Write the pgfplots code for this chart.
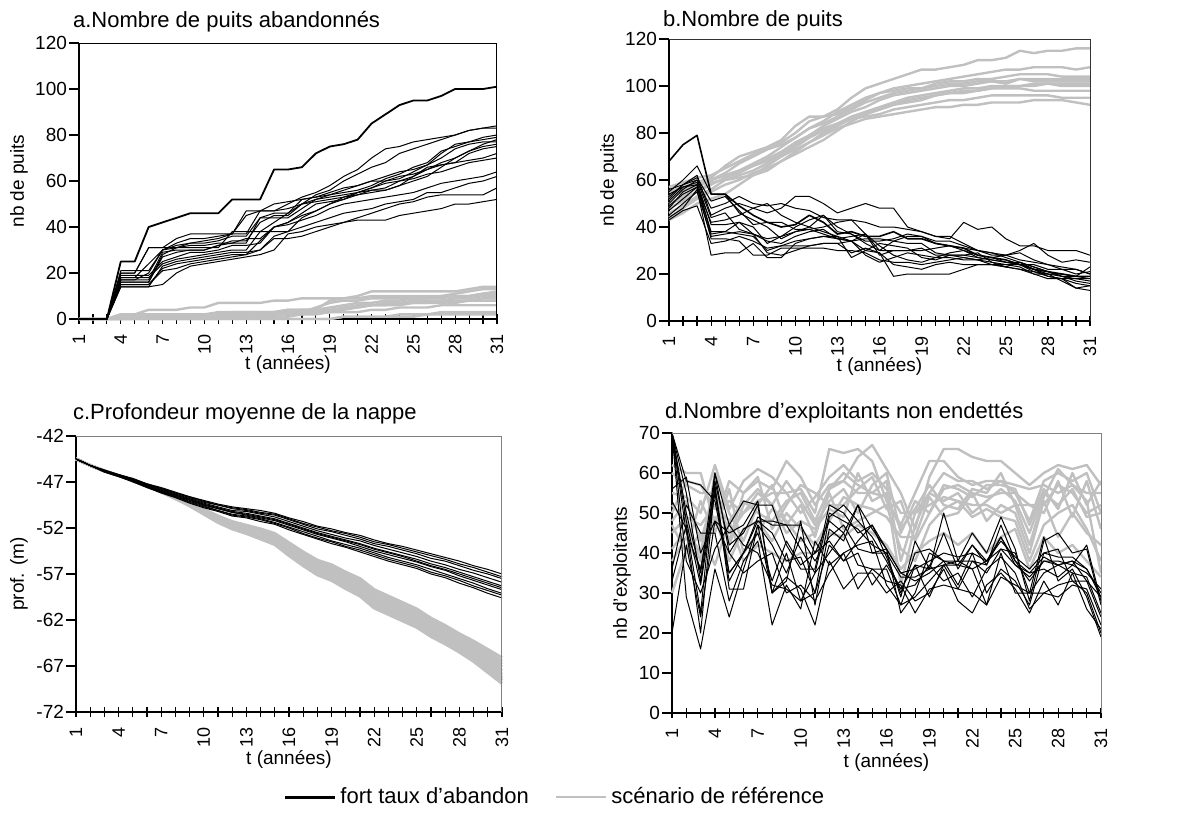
\documentclass[border=0pt]{standalone}
\usepackage{pgfplots}
\pgfplotsset{compat=1.18}
\usepackage{fontspec}
\setmainfont{Liberation Sans}
\definecolor{lgray}{HTML}{C0C0C0}

\pgfplotsset{
  panel/.style={
    scale only axis, anchor=north west, clip=false,
    axis x line*=bottom, axis y line*=left,
    axis line style={-, black, line width=0.8pt},
    xmin=1, xmax=31,
    xtick={1,4,...,31}, minor x tick num=2,
    tick align=center,
    major tick length=5pt, minor tick length=5pt,
    tick style={black, line width=0.6pt},
    every major y tick/.append style={xshift=-2.5pt},
    tick label style={font=\fontsize{9.5}{10}\selectfont},
    xticklabel style={rotate=90, anchor=east, font=\fontsize{9}{10}\selectfont},
    xticklabel shift=1.5pt,
    /pgf/number format/assume math mode=true,
    label style={font=\fontsize{9.5}{11}\selectfont},
    title style={font=\fontsize{11}{12}\selectfont, at={(0,1)}, anchor=base west},
  },
  bl/.style={black, line width=0.5pt, line join=round, forget plot},
  gr/.style={lgray, line width=1.2pt, line join=round, forget plot},
}
\newcommand\bk[2][]{\addplot[bl,#1] table[row sep=\\, header=false, x expr=\coordindex+1, y index=0]{#2\\};}
\newcommand\gy[2][]{\addplot[gr,#1] table[row sep=\\, header=false, x expr=\coordindex+1, y index=0]{#2\\};}
\newcommand\frameTR[1]{\draw[#1, line width=0.5pt] (rel axis cs:0,1) -- (rel axis cs:1,1) -- (rel axis cs:1,0);}

\begin{document}
\begin{tikzpicture}
\useasboundingbox (0,0) rectangle (594.5pt,-409.5pt);

% a. abandoned wells
\begin{axis}[panel, at={(39.5pt,-21.5pt)}, width=209pt, height=138pt,
  ymin=0, ymax=120, ytick={0,20,...,120},
  title={a.Nombre de puits abandonnés}, title style={xshift=-6.5pt, yshift=2pt},
  ylabel={nb de puits}, ylabel style={at={(axis description cs:-0.1435,0.5)}, anchor=center},
  xlabel={t (années)}, xlabel style={at={(axis description cs:0.5,-0.166)}, anchor=center}]
\gy{0\\0\\0\\2\\2\\4\\4\\4\\5\\5\\7\\7\\7\\7\\8\\8\\9\\9\\9\\9\\10\\12\\12\\12\\12\\12\\12\\12\\13\\14\\14}
\gy{0\\0\\0\\1\\2\\2\\2\\2\\2\\2\\3\\3\\3\\3\\3\\4\\4\\4\\8\\9\\9\\10\\10\\10\\10\\10\\10\\11\\12\\13\\13}
\gy{0\\0\\0\\0\\1\\1\\1\\1\\1\\2\\2\\2\\2\\2\\2\\2\\3\\5\\7\\8\\8\\9\\9\\9\\9\\9\\10\\10\\10\\11\\11}
\gy{0\\0\\0\\0\\0\\1\\1\\1\\1\\1\\1\\1\\1\\1\\2\\3\\3\\3\\3\\4\\5\\6\\7\\7\\8\\8\\8\\9\\9\\10\\10}
\gy{0\\0\\0\\0\\0\\0\\0\\0\\0\\0\\0\\1\\1\\1\\1\\1\\2\\2\\3\\5\\6\\6\\6\\6\\7\\7\\7\\7\\8\\8\\8}
\gy{0\\0\\0\\1\\1\\1\\1\\1\\1\\1\\1\\1\\2\\2\\2\\2\\2\\3\\3\\3\\3\\4\\4\\5\\5\\5\\6\\6\\6\\6\\6}
\gy{0\\0\\0\\0\\0\\0\\0\\0\\0\\0\\0\\0\\0\\0\\0\\0\\0\\0\\0\\1\\1\\1\\1\\2\\2\\2\\3\\3\\3\\3\\3}
\gy{0\\0\\0\\0\\0\\0\\0\\0\\0\\0\\0\\0\\0\\0\\0\\0\\0\\0\\0\\1\\1\\1\\1\\1\\1\\2\\2\\2\\2\\2\\2}
\gy{0\\0\\0\\2\\2\\2\\2\\2\\2\\2\\2\\3\\3\\3\\3\\3\\4\\4\\5\\6\\7\\7\\8\\8\\9\\9\\9\\10\\10\\11\\12}
\gy{0\\0\\0\\0\\1\\1\\1\\1\\1\\1\\1\\2\\2\\2\\3\\4\\4\\4\\4\\5\\5\\6\\6\\7\\7\\7\\8\\8\\8\\9\\9}
\bk[line width=0.9pt]{0\\0\\0\\25\\25\\40\\42\\44\\46\\46\\46\\52\\52\\52\\65\\65\\66\\72\\75\\76\\78\\85\\89\\93\\95\\95\\97\\100\\100\\100\\101}
\bk{0\\0\\0\\18\\18\\24\\30\\33\\35\\35\\36\\37\\45\\47\\47\\50\\53\\55\\58\\62\\65\\70\\74\\75\\77\\78\\79\\80\\82\\83\\84}
\bk{0\\0\\0\\16\\16\\16\\28\\31\\33\\33\\34\\36\\36\\44\\46\\46\\50\\54\\56\\60\\63\\66\\68\\72\\74\\76\\78\\80\\82\\83\\83}
\bk{0\\0\\0\\20\\20\\31\\31\\31\\31\\31\\31\\38\\38\\38\\42\\46\\52\\53\\54\\55\\56\\58\\61\\63\\66\\68\\73\\75\\77\\79\\80}
\bk{0\\0\\0\\15\\15\\15\\22\\24\\25\\26\\27\\28\\28\\34\\40\\42\\45\\47\\50\\53\\55\\57\\59\\60\\62\\65\\68\\70\\73\\76\\78}
\bk{0\\0\\0\\17\\17\\17\\29\\30\\30\\30\\32\\34\\34\\42\\45\\45\\50\\51\\52\\53\\54\\56\\56\\58\\60\\62\\66\\70\\73\\75\\76}
\bk{0\\0\\0\\19\\19\\19\\25\\27\\29\\29\\30\\32\\32\\33\\40\\42\\46\\50\\51\\52\\55\\57\\60\\62\\63\\65\\67\\68\\72\\74\\75}
\bk{0\\0\\0\\14\\14\\14\\23\\25\\26\\27\\28\\29\\29\\30\\36\\38\\44\\47\\50\\52\\54\\55\\56\\58\\62\\66\\67\\68\\69\\70\\72}
\bk{0\\0\\0\\21\\21\\21\\30\\32\\33\\34\\35\\37\\47\\47\\47\\48\\50\\52\\53\\54\\55\\56\\57\\60\\61\\63\\64\\66\\68\\69\\70}
\bk{0\\0\\0\\16\\16\\16\\27\\29\\30\\30\\32\\33\\35\\35\\40\\41\\43\\45\\48\\50\\51\\52\\53\\54\\55\\57\\59\\60\\61\\62\\64}
\bk{0\\0\\0\\18\\18\\18\\24\\26\\27\\28\\29\\30\\30\\38\\38\\38\\40\\42\\44\\46\\47\\48\\50\\51\\52\\55\\55\\57\\59\\60\\62}
\bk{0\\0\\0\\15\\15\\15\\21\\22\\24\\25\\26\\27\\28\\30\\35\\35\\36\\38\\40\\42\\44\\46\\48\\50\\51\\53\\54\\54\\54\\54\\57}
\bk{0\\0\\0\\14\\14\\14\\15\\20\\23\\24\\25\\26\\27\\28\\30\\37\\38\\40\\41\\42\\43\\43\\43\\45\\46\\47\\48\\50\\50\\51\\52}
\bk{0\\0\\0\\20\\20\\31\\31\\35\\37\\37\\37\\37\\37\\47\\50\\51\\52\\53\\55\\57\\58\\60\\62\\64\\65\\67\\70\\74\\76\\77\\77}
\bk{0\\0\\0\\17\\17\\20\\30\\31\\32\\32\\33\\33\\33\\44\\44\\44\\48\\52\\54\\56\\58\\60\\60\\61\\64\\67\\72\\76\\77\\78\\79}
\frameTR{black}
\end{axis}

% b. number of wells
\begin{axis}[panel, at={(334.5pt,-19.5pt)}, width=210.5pt, height=141pt,
  ymin=0, ymax=120, ytick={0,20,...,120},
  title={b.Nombre de puits}, title style={xshift=-6.5pt, yshift=0.5pt},
  ylabel={nb de puits}, ylabel style={at={(axis description cs:-0.1425,0.5)}, anchor=center},
  xlabel={t (années)}, xlabel style={at={(axis description cs:0.5,-0.162)}, anchor=center}]
\gy{55\\57\\59\\61\\66\\70\\72\\74\\76\\80\\85\\87\\90\\95\\99\\101\\103\\105\\107\\107\\108\\109\\111\\111\\112\\115\\114\\115\\115\\116\\116}
\gy{52\\55\\58\\60\\63\\67\\70\\73\\75\\78\\82\\85\\89\\92\\95\\97\\99\\100\\101\\102\\103\\104\\105\\106\\107\\107\\108\\108\\108\\107\\108}
\gy{50\\53\\57\\60\\62\\64\\67\\70\\74\\78\\82\\84\\87\\90\\93\\95\\97\\98\\99\\101\\102\\102\\103\\103\\104\\105\\105\\105\\104\\104\\104}
\gy{48\\51\\55\\58\\61\\63\\66\\69\\72\\76\\79\\83\\86\\89\\91\\94\\96\\97\\98\\99\\100\\100\\101\\102\\102\\103\\102\\102\\102\\102\\102}
\gy{46\\49\\53\\56\\60\\62\\64\\67\\70\\74\\78\\81\\84\\87\\89\\91\\93\\95\\96\\97\\98\\99\\99\\100\\100\\100\\100\\101\\100\\100\\100}
\gy{44\\48\\52\\55\\58\\60\\63\\65\\68\\72\\76\\80\\83\\86\\88\\90\\92\\94\\95\\96\\97\\98\\98\\99\\99\\99\\98\\98\\98\\98\\98}
\gy{53\\56\\58\\60\\62\\64\\66\\68\\71\\75\\79\\82\\84\\86\\87\\88\\90\\91\\92\\93\\94\\94\\95\\96\\96\\96\\96\\96\\95\\95\\95}
\gy{43\\46\\50\\52\\54\\58\\62\\66\\70\\73\\76\\79\\82\\84\\86\\87\\88\\89\\90\\91\\91\\92\\92\\93\\93\\93\\94\\94\\94\\93\\92}
\gy{57\\59\\61\\62\\65\\68\\71\\74\\77\\83\\87\\87\\88\\91\\94\\97\\98\\99\\99\\100\\101\\101\\102\\102\\101\\103\\103\\103\\103\\103\\103}
\gy{50\\52\\55\\59\\60\\61\\62\\64\\68\\71\\74\\77\\81\\85\\88\\90\\92\\93\\94\\96\\97\\97\\98\\99\\100\\100\\101\\101\\101\\101\\101}
\bk[line width=0.8pt]{68\\75\\79\\54\\54\\49\\45\\42\\40\\41\\45\\42\\37\\38\\36\\36\\38\\35\\35\\33\\32\\31\\28\\27\\26\\24\\22\\21\\20\\19\\19}
\bk{55\\60\\66\\54\\54\\46\\43\\40\\35\\38\\40\\45\\40\\37\\33\\30\\34\\36\\36\\33\\32\\31\\30\\29\\27\\25\\23\\21\\19\\18\\17}
\bk{52\\58\\62\\45\\48\\50\\48\\46\\48\\53\\53\\50\\46\\48\\50\\48\\48\\40\\38\\36\\36\\33\\30\\28\\28\\30\\33\\28\\25\\26\\25}
\bk{50\\56\\60\\48\\50\\53\\50\\49\\50\\48\\47\\44\\43\\43\\42\\40\\40\\39\\38\\36\\35\\42\\39\\40\\35\\32\\32\\30\\30\\30\\28}
\bk{48\\55\\58\\38\\38\\37\\36\\30\\32\\34\\35\\36\\35\\36\\37\\28\\30\\30\\30\\31\\32\\30\\28\\27\\28\\29\\26\\24\\22\\22\\20}
\bk{45\\50\\55\\36\\37\\38\\37\\29\\28\\30\\32\\33\\33\\34\\30\\29\\19\\20\\20\\20\\20\\22\\24\\24\\24\\24\\22\\19\\18\\16\\15}
\bk{44\\48\\56\\28\\29\\29\\33\\27\\27\\33\\35\\36\\36\\27\\30\\33\\32\\31\\27\\26\\28\\28\\29\\25\\23\\22\\20\\18\\18\\14\\13}
\bk{51\\57\\59\\41\\41\\42\\37\\34\\33\\36\\38\\39\\35\\34\\37\\30\\30\\30\\31\\28\\28\\27\\26\\27\\25\\24\\21\\19\\18\\18\\18}
\bk{53\\58\\60\\44\\46\\39\\37\\35\\36\\38\\39\\40\\42\\43\\37\\32\\28\\26\\25\\27\\29\\30\\27\\26\\25\\24\\24\\22\\22\\20\\21}
\bk{56\\58\\61\\51\\53\\47\\41\\42\\42\\39\\39\\37\\35\\34\\35\\35\\34\\33\\33\\29\\28\\28\\27\\26\\25\\25\\22\\20\\19\\17\\16}
\bk{47\\52\\57\\35\\35\\34\\28\\28\\31\\31\\31\\31\\30\\30\\29\\26\\25\\25\\24\\25\\26\\27\\26\\24\\23\\22\\21\\20\\17\\14\\15}
\bk{49\\54\\57\\42\\43\\45\\48\\50\\45\\42\\40\\38\\36\\34\\28\\25\\27\\29\\28\\27\\27\\26\\26\\25\\24\\23\\20\\20\\20\\19\\18}
\bk{43\\47\\49\\33\\34\\36\\34\\31\\32\\32\\32\\33\\33\\29\\31\\29\\24\\23\\22\\24\\25\\24\\24\\24\\23\\25\\23\\21\\19\\19\\23}
\bk{54\\57\\58\\37\\38\\42\\40\\33\\36\\40\\43\\45\\38\\37\\34\\34\\35\\37\\36\\34\\34\\32\\30\\29\\28\\26\\25\\24\\23\\22\\20}
\frameTR{black!80}
\end{axis}

% c. mean water-table depth
\begin{axis}[panel, at={(38pt,-218pt)}, width=213pt, height=138pt,
  ymin=-72, ymax=-42, ytick={-72,-67,-62,-57,-52,-47,-42},
  title={c.Profondeur moyenne de la nappe}, title style={xshift=-5pt, yshift=2.5pt},
  ylabel={prof. (m)}, ylabel style={at={(axis description cs:-0.134,0.5)}, anchor=center},
  xlabel={t (années)}, xlabel style={at={(axis description cs:0.5,-0.172)}, anchor=center},
  legend style={at={(axis description cs:0.486,-0.308)}, anchor=west, draw=none, fill=none,
    inner sep=0pt, legend columns=2, font=\fontsize{11}{12}\selectfont,
    /tikz/every even column/.append style={column sep=11pt}},
  legend image code/.code={\draw[#1] (0pt,0pt) -- (25pt,0pt);}]
\gy[line width=1.5pt]{-44.5\\-45.2\\-45.8\\-46.3\\-46.8\\-47.4\\-48.0\\-48.6\\-49.3\\-50.0\\-50.7\\-51.3\\-51.7\\-52.1\\-52.6\\-53.6\\-54.6\\-55.5\\-56.0\\-56.8\\-57.5\\-58.7\\-59.4\\-60.1\\-60.8\\-61.8\\-62.6\\-63.5\\-64.3\\-65.2\\-66.1}
\gy[line width=1.5pt]{-44.5\\-45.2\\-45.8\\-46.3\\-46.8\\-47.4\\-48.0\\-48.6\\-49.3\\-50.0\\-50.7\\-51.4\\-51.8\\-52.2\\-52.8\\-53.8\\-54.7\\-55.7\\-56.2\\-57.0\\-57.7\\-59.0\\-59.7\\-60.4\\-61.1\\-62.1\\-62.9\\-63.8\\-64.6\\-65.5\\-66.5}
\gy[line width=1.5pt]{-44.5\\-45.2\\-45.8\\-46.3\\-46.8\\-47.4\\-48.0\\-48.7\\-49.3\\-50.1\\-50.8\\-51.5\\-51.9\\-52.3\\-52.9\\-54.0\\-54.9\\-55.9\\-56.4\\-57.3\\-57.9\\-59.2\\-59.9\\-60.6\\-61.3\\-62.3\\-63.1\\-64.0\\-64.9\\-65.8\\-66.8}
\gy[line width=1.5pt]{-44.5\\-45.2\\-45.8\\-46.3\\-46.8\\-47.4\\-48.0\\-48.7\\-49.4\\-50.1\\-50.9\\-51.6\\-52.0\\-52.5\\-53.0\\-54.1\\-55.1\\-56.1\\-56.6\\-57.5\\-58.2\\-59.5\\-60.2\\-60.9\\-61.6\\-62.6\\-63.4\\-64.3\\-65.1\\-66.1\\-67.1}
\gy[line width=1.5pt]{-44.5\\-45.2\\-45.8\\-46.3\\-46.8\\-47.4\\-48.0\\-48.7\\-49.4\\-50.2\\-51.0\\-51.7\\-52.1\\-52.6\\-53.2\\-54.3\\-55.3\\-56.3\\-56.8\\-57.7\\-58.4\\-59.7\\-60.4\\-61.1\\-61.8\\-62.8\\-63.6\\-64.5\\-65.4\\-66.4\\-67.5}
\gy[line width=1.5pt]{-44.5\\-45.2\\-45.8\\-46.3\\-46.8\\-47.4\\-48.0\\-48.7\\-49.4\\-50.3\\-51.1\\-51.8\\-52.2\\-52.7\\-53.4\\-54.5\\-55.5\\-56.5\\-57.0\\-57.9\\-58.6\\-59.9\\-60.7\\-61.4\\-62.1\\-63.1\\-63.9\\-64.8\\-65.7\\-66.7\\-67.9}
\gy[line width=1.5pt]{-44.5\\-45.2\\-45.8\\-46.3\\-46.8\\-47.4\\-48.0\\-48.8\\-49.5\\-50.3\\-51.2\\-51.9\\-52.3\\-52.9\\-53.5\\-54.7\\-55.7\\-56.7\\-57.2\\-58.2\\-58.9\\-60.2\\-60.9\\-61.6\\-62.3\\-63.3\\-64.1\\-65.0\\-66.0\\-67.0\\-68.2}
\gy[line width=1.5pt]{-44.5\\-45.2\\-45.8\\-46.3\\-46.8\\-47.4\\-48.0\\-48.8\\-49.5\\-50.4\\-51.2\\-52.0\\-52.4\\-53.0\\-53.6\\-54.8\\-55.8\\-56.8\\-57.4\\-58.3\\-59.0\\-60.4\\-61.1\\-61.8\\-62.5\\-63.5\\-64.3\\-65.2\\-66.1\\-67.2\\-68.4}
\gy[line width=1.5pt]{-44.5\\-45.2\\-45.8\\-46.3\\-46.8\\-47.4\\-48.0\\-48.8\\-49.5\\-50.4\\-51.3\\-52.0\\-52.5\\-53.0\\-53.7\\-54.9\\-55.9\\-56.9\\-57.5\\-58.4\\-59.2\\-60.5\\-61.2\\-61.9\\-62.6\\-63.6\\-64.4\\-65.3\\-66.3\\-67.4\\-68.6}
\gy[line width=1.5pt]{-44.5\\-45.2\\-45.8\\-46.3\\-46.8\\-47.4\\-48.1\\-48.8\\-49.6\\-50.5\\-51.4\\-52.1\\-52.6\\-53.2\\-53.8\\-55.0\\-56.1\\-57.1\\-57.7\\-58.6\\-59.4\\-60.7\\-61.4\\-62.1\\-62.8\\-63.8\\-64.6\\-65.5\\-66.5\\-67.7\\-68.9}
\bk{-44.5\\-45.2\\-45.7\\-46.2\\-46.6\\-47.2\\-47.6\\-48.1\\-48.6\\-49.0\\-49.4\\-49.7\\-49.9\\-50.1\\-50.4\\-50.9\\-51.3\\-51.8\\-52.1\\-52.5\\-52.8\\-53.3\\-53.7\\-54.0\\-54.4\\-54.8\\-55.2\\-55.6\\-56.1\\-56.5\\-57.0}
\bk{-44.5\\-45.2\\-45.8\\-46.2\\-46.7\\-47.3\\-47.7\\-48.2\\-48.7\\-49.2\\-49.5\\-49.9\\-50.1\\-50.4\\-50.6\\-51.1\\-51.6\\-52.1\\-52.4\\-52.8\\-53.2\\-53.7\\-54.0\\-54.4\\-54.8\\-55.3\\-55.6\\-56.1\\-56.6\\-57.0\\-57.5}
\bk{-44.5\\-45.2\\-45.8\\-46.3\\-46.8\\-47.3\\-47.8\\-48.3\\-48.8\\-49.3\\-49.7\\-50.1\\-50.2\\-50.5\\-50.8\\-51.3\\-51.8\\-52.3\\-52.7\\-53.1\\-53.4\\-53.9\\-54.3\\-54.7\\-55.1\\-55.6\\-56.0\\-56.5\\-56.9\\-57.4\\-57.9}
\bk{-44.5\\-45.2\\-45.8\\-46.3\\-46.8\\-47.4\\-47.9\\-48.4\\-48.9\\-49.4\\-49.8\\-50.2\\-50.4\\-50.7\\-51.0\\-51.5\\-52.0\\-52.5\\-52.9\\-53.3\\-53.7\\-54.2\\-54.6\\-55.0\\-55.4\\-55.9\\-56.3\\-56.8\\-57.3\\-57.8\\-58.3}
\bk{-44.5\\-45.2\\-45.8\\-46.3\\-46.9\\-47.5\\-48.0\\-48.5\\-49.0\\-49.5\\-49.9\\-50.3\\-50.6\\-50.9\\-51.2\\-51.7\\-52.2\\-52.7\\-53.1\\-53.5\\-54.0\\-54.5\\-54.9\\-55.3\\-55.7\\-56.2\\-56.6\\-57.2\\-57.7\\-58.2\\-58.7}
\bk{-44.5\\-45.2\\-45.9\\-46.4\\-46.9\\-47.5\\-48.1\\-48.6\\-49.1\\-49.6\\-50.1\\-50.5\\-50.7\\-51.0\\-51.4\\-51.9\\-52.4\\-52.9\\-53.4\\-53.8\\-54.2\\-54.7\\-55.2\\-55.6\\-56.0\\-56.5\\-57.0\\-57.5\\-58.0\\-58.6\\-59.1}
\bk{-44.5\\-45.2\\-45.9\\-46.4\\-46.9\\-47.6\\-48.1\\-48.6\\-49.2\\-49.7\\-50.1\\-50.6\\-50.8\\-51.1\\-51.5\\-52.0\\-52.6\\-53.1\\-53.5\\-54.0\\-54.4\\-54.9\\-55.4\\-55.8\\-56.2\\-56.8\\-57.2\\-57.7\\-58.3\\-58.8\\-59.3}
\bk{-44.5\\-45.2\\-45.9\\-46.4\\-47.0\\-47.6\\-48.2\\-48.7\\-49.3\\-49.8\\-50.2\\-50.7\\-50.9\\-51.3\\-51.6\\-52.2\\-52.7\\-53.2\\-53.7\\-54.1\\-54.6\\-55.1\\-55.6\\-56.0\\-56.4\\-57.0\\-57.4\\-58.0\\-58.5\\-59.1\\-59.6}
\bk{-44.5\\-45.2\\-45.7\\-46.2\\-46.7\\-47.2\\-47.7\\-48.2\\-48.6\\-49.1\\-49.5\\-49.8\\-50.0\\-50.3\\-50.5\\-51.0\\-51.5\\-51.9\\-52.3\\-52.6\\-53.0\\-53.5\\-53.8\\-54.2\\-54.6\\-55.0\\-55.4\\-55.9\\-56.3\\-56.8\\-57.3}
\bk{-44.5\\-45.2\\-45.8\\-46.3\\-46.8\\-47.4\\-47.9\\-48.4\\-48.9\\-49.5\\-49.9\\-50.3\\-50.5\\-50.8\\-51.1\\-51.6\\-52.1\\-52.6\\-53.0\\-53.4\\-53.8\\-54.3\\-54.7\\-55.1\\-55.6\\-56.1\\-56.5\\-57.0\\-57.5\\-58.0\\-58.5}
\addlegendimage{black, line width=1.5pt}
\addlegendentry{fort taux d’abandon}
\addlegendimage{lgray, line width=1.3pt}
\addlegendentry{scénario de référence}
\frameTR{gray}
\end{axis}

% d. non-indebted farmers
\begin{axis}[panel, at={(336pt,-216.5pt)}, width=214.5pt, height=140pt,
  ymin=0, ymax=70, ytick={0,10,...,70},
  title={d.Nombre d’exploitants non endettés}, title style={xshift=-7pt, yshift=1.5pt},
  ylabel={nb d’exploitants}, ylabel style={at={(axis description cs:-0.1166,0.5)}, anchor=center},
  xlabel={t (années)}, xlabel style={at={(axis description cs:0.5,-0.175)}, anchor=center}]
\gy{62\\60\\60\\47\\58\\55\\58\\56\\63\\59\\52\\57\\58\\64\\67\\61\\55\\46\\59\\66\\66\\64\\63\\63\\60\\57\\60\\62\\61\\62\\57}
\gy{55\\54\\50\\62\\51\\58\\61\\59\\55\\56\\50\\66\\65\\66\\63\\53\\47\\55\\63\\63\\59\\57\\58\\58\\55\\48\\58\\60\\58\\60\\50}
\gy{50\\58\\57\\51\\53\\50\\53\\55\\55\\50\\54\\59\\62\\58\\60\\56\\50\\50\\55\\60\\58\\58\\56\\58\\57\\56\\57\\55\\57\\55\\55}
\gy{48\\53\\43\\55\\45\\50\\55\\52\\58\\53\\47\\53\\56\\50\\57\\60\\45\\53\\50\\56\\57\\55\\54\\55\\55\\52\\52\\57\\55\\50\\52}
\gy{45\\49\\47\\52\\48\\53\\50\\48\\53\\55\\48\\56\\58\\55\\55\\58\\38\\50\\52\\54\\53\\52\\52\\50\\52\\52\\50\\58\\49\\58\\46}
\gy{41\\46\\40\\58\\42\\52\\56\\52\\45\\48\\46\\51\\49\\60\\53\\55\\32\\47\\55\\53\\55\\50\\53\\56\\53\\45\\55\\52\\56\\49\\50}
\gy{38\\44\\36\\49\\38\\46\\48\\43\\50\\46\\42\\48\\54\\52\\51\\49\\44\\44\\54\\49\\50\\55\\48\\52\\50\\40\\53\\44\\50\\45\\42}
\gy{30\\41\\53\\45\\56\\40\\45\\51\\48\\43\\45\\55\\46\\48\\50\\52\\41\\38\\47\\51\\53\\49\\51\\49\\48\\38\\47\\50\\52\\46\\38}
\gy{60\\57\\55\\55\\43\\55\\59\\46\\52\\57\\55\\52\\52\\56\\59\\51\\53\\43\\50\\57\\56\\54\\57\\57\\56\\47\\56\\51\\60\\52\\58}
\gy{52\\48\\38\\60\\50\\43\\52\\57\\47\\52\\44\\56\\60\\57\\55\\54\\46\\51\\57\\52\\51\\56\\55\\60\\52\\42\\54\\61\\57\\53\\35}
\gy{47\\40\\45\\37\\48\\38\\42\\40\\38\\40\\40\\45\\44\\47\\45\\42\\36\\40\\43\\45\\42\\45\\40\\44\\46\\36\\44\\40\\42\\38\\34}
\bk{70\\48\\32\\55\\33\\40\\49\\47\\47\\41\\35\\50\\48\\46\\42\\40\\34\\34\\36\\37\\37\\36\\38\\41\\37\\34\\38\\38\\37\\35\\31}
\bk{70\\55\\33\\58\\42\\45\\52\\52\\42\\36\\36\\52\\50\\45\\47\\41\\35\\36\\38\\40\\39\\40\\38\\43\\39\\36\\40\\39\\39\\36\\30}
\bk{70\\50\\35\\60\\40\\46\\48\\45\\38\\39\\30\\49\\52\\48\\44\\38\\31\\37\\36\\45\\36\\42\\37\\47\\38\\35\\39\\37\\38\\33\\29}
\bk{56\\59\\40\\48\\45\\47\\53\\30\\33\\48\\27\\46\\43\\52\\40\\40\\29\\43\\36\\50\\38\\45\\40\\49\\41\\28\\43\\45\\40\\41\\27}
\bk{53\\46\\20\\57\\31\\31\\47\\42\\35\\44\\38\\44\\47\\41\\40\\41\\25\\30\\40\\38\\32\\40\\30\\36\\33\\27\\40\\41\\33\\33\\24}
\bk{36\\52\\45\\45\\28\\38\\43\\22\\32\\26\\43\\37\\40\\42\\43\\32\\27\\29\\33\\37\\38\\36\\27\\40\\30\\30\\44\\33\\36\\29\\19}
\bk{70\\29\\16\\36\\24\\36\\47\\30\\34\\31\\22\\38\\31\\35\\35\\30\\33\\28\\30\\36\\28\\25\\32\\35\\31\\25\\33\\27\\35\\26\\21}
\bk{33\\47\\25\\60\\47\\53\\52\\30\\40\\28\\35\\40\\45\\37\\36\\36\\27\\37\\29\\37\\31\\38\\35\\41\\40\\30\\35\\37\\35\\34\\25}
\bk{20\\42\\24\\48\\40\\35\\38\\40\\30\\32\\28\\35\\40\\31\\36\\33\\32\\25\\31\\32\\31\\30\\27\\34\\32\\30\\30\\32\\33\\30\\20}
\bk{70\\58\\57\\53\\35\\40\\45\\33\\43\\37\\40\\43\\38\\43\\47\\39\\30\\40\\41\\38\\37\\42\\38\\44\\37\\35\\36\\34\\37\\42\\28}
\bk{70\\38\\30\\41\\47\\42\\40\\32\\31\\28\\30\\42\\38\\40\\32\\37\\31\\32\\37\\33\\35\\29\\36\\39\\35\\26\\30\\29\\32\\31\\22}
\bk{70\\45\\36\\56\\35\\40\\48\\48\\47\\47\\40\\48\\45\\52\\46\\41\\35\\33\\35\\38\\38\\38\\37\\44\\38\\33\\38\\37\\38\\36\\29}
\frameTR{gray}
\end{axis}
\end{tikzpicture}
\end{document}
